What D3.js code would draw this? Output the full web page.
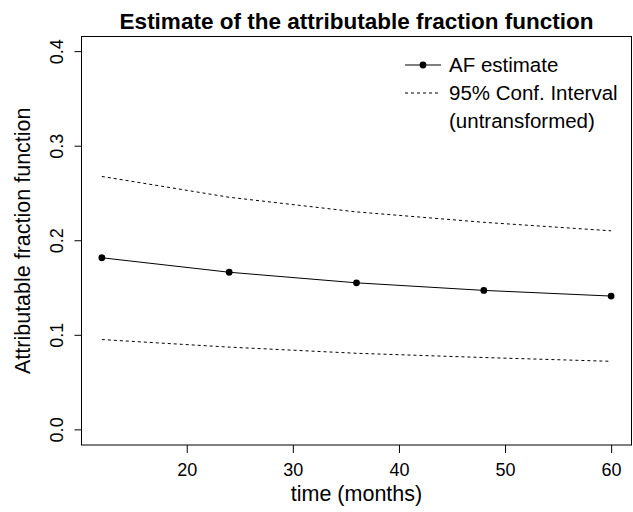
<!DOCTYPE html>
<html>
<head>
<meta charset="utf-8">
<script src="https://cdn.jsdelivr.net/npm/d3@7"></script>
<style>
  body { margin: 0; background: #fff; }
  text { font-family: "Liberation Sans", Arial, sans-serif; fill: #000; }
</style>
</head>
<body>
<div id="chart"></div>
<script>
// data
const months = [12, 24, 36, 48, 60];
const afEstimate = [0.182, 0.1667, 0.1555, 0.1475, 0.1415];
const ciUpper = [0.268, 0.246, 0.2305, 0.2195, 0.2105];
const ciLower = [0.0955, 0.0875, 0.081, 0.0765, 0.0725];
const xTicks = [20, 30, 40, 50, 60];
const yTicks = [0.0, 0.1, 0.2, 0.3, 0.4];
const legendLabels = ["AF estimate", "95% Conf. Interval", "(untransformed)"];

const width = 633, height = 512;
const box = { left: 81.5, right: 631.5, top: 36.5, bottom: 445 };

const svg = d3.select("#chart")
  .append("svg")
  .attr("width", width)
  .attr("height", height);

// R style 4% padding around the data range
const x = d3.scaleLinear()
  .domain([12 - 48 * 0.04, 60 + 48 * 0.04])
  .range([box.left, box.right]);

const y = d3.scaleLinear()
  .domain([-0.016, 0.416])
  .range([box.bottom, box.top]);

// plot frame
svg.append("rect")
  .attr("x", box.left)
  .attr("y", box.top)
  .attr("width", box.right - box.left)
  .attr("height", box.bottom - box.top)
  .attr("fill", "none")
  .attr("stroke", "#000")
  .attr("stroke-width", 1);

// x axis
const gx = svg.append("g")
  .attr("transform", `translate(0,${box.bottom})`)
  .call(d3.axisBottom(x).tickValues(xTicks).tickSize(8).tickPadding(10).tickFormat(d3.format("d")));
gx.select(".domain").remove();
gx.selectAll("text").attr("font-size", 18).attr("font-family", "Liberation Sans, Arial, sans-serif").attr("fill", "#000");

// y axis, labels turned like R's las = 0
const gy = svg.append("g")
  .attr("transform", `translate(${box.left},0)`)
  .call(d3.axisLeft(y).tickValues(yTicks).tickSize(7).tickFormat(d3.format(".1f")));
gy.select(".domain").remove();
gy.selectAll(".tick").attr("transform", null);
gy.selectAll(".tick line").attr("y1", d => y(d)).attr("y2", d => y(d));
gy.selectAll("text")
  .attr("font-size", 18)
  .attr("font-family", "Liberation Sans, Arial, sans-serif")
  .attr("fill", "#000")
  .attr("x", null).attr("y", null).attr("dy", null)
  .attr("text-anchor", "middle")
  .attr("transform", d => `translate(${63 - box.left},${y(d)}) rotate(-90)`);

// titles
svg.append("text")
  .attr("x", (box.left + box.right) / 2)
  .attr("y", 29)
  .attr("text-anchor", "middle")
  .attr("font-size", 22.5)
  .attr("font-weight", "bold")
  .text("Estimate of the attributable fraction function");

svg.append("text")
  .attr("x", (box.left + box.right) / 2)
  .attr("y", 501)
  .attr("text-anchor", "middle")
  .attr("font-size", 21.5)
  .text("time (months)");

svg.append("text")
  .attr("transform", `translate(30,${(box.top + box.bottom) / 2}) rotate(-90)`)
  .attr("text-anchor", "middle")
  .attr("font-size", 21.5)
  .text("Attributable fraction function");

// lines
const line = d3.line()
  .x((d, i) => x(months[i]))
  .y(d => y(d));

svg.append("path")
  .attr("d", line(afEstimate))
  .attr("fill", "none")
  .attr("stroke", "#000")
  .attr("stroke-width", 1);

[ciUpper, ciLower].forEach(series => {
  svg.append("path")
    .attr("d", line(series))
    .attr("fill", "none")
    .attr("stroke", "#000")
    .attr("stroke-width", 1)
    .attr("stroke-dasharray", "3,3");
});

svg.selectAll("circle.pt")
  .data(afEstimate)
  .enter()
  .append("circle")
  .attr("class", "pt")
  .attr("cx", (d, i) => x(months[i]))
  .attr("cy", d => y(d))
  .attr("r", 3.4)
  .attr("fill", "#000");

// legend
const lg = svg.append("g");
lg.append("line")
  .attr("x1", 405).attr("x2", 441).attr("y1", 65).attr("y2", 65)
  .attr("stroke", "#000");
lg.append("circle")
  .attr("cx", 423).attr("cy", 65).attr("r", 3.4).attr("fill", "#000");
lg.append("line")
  .attr("x1", 405).attr("x2", 441).attr("y1", 93).attr("y2", 93)
  .attr("stroke", "#000").attr("stroke-dasharray", "3,3");

lg.selectAll("text")
  .data(legendLabels)
  .enter()
  .append("text")
  .attr("x", 449)
  .attr("y", (d, i) => 65 + i * 28 + 7)
  .attr("font-size", 20.5)
  .text(d => d);
</script>
</body>
</html>
